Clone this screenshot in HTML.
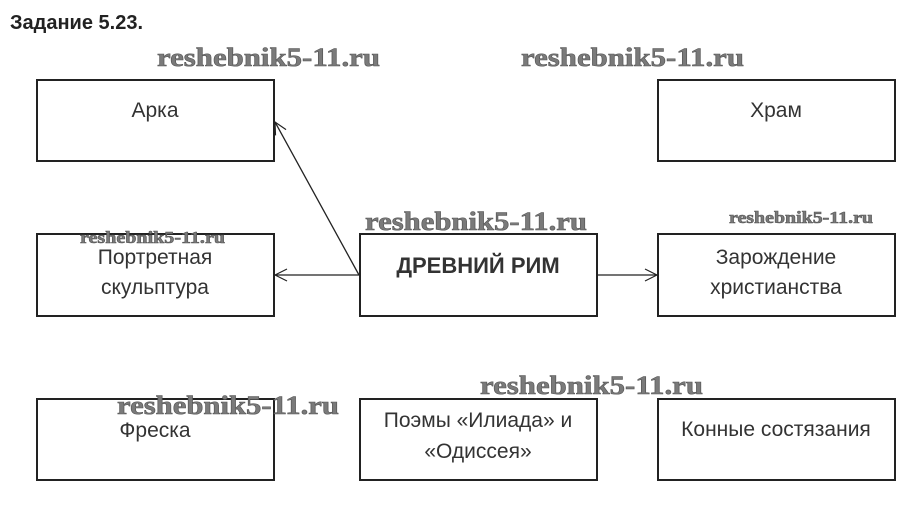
<!DOCTYPE html>
<html><head><meta charset="utf-8"><style>
body{margin:0;background:#fff;width:909px;height:522px;overflow:hidden}
svg{display:block}
.t{font-family:"Liberation Sans",sans-serif;font-size:21px;fill:#333;text-anchor:middle}
.w{font-family:"Liberation Serif",serif;font-weight:bold;fill:#7a7a7a;stroke:#555;stroke-width:0.6}
</style></head><body>
<svg width="909" height="522" viewBox="0 0 909 522">
<defs><marker id="a" markerWidth="14" markerHeight="14" refX="13" refY="7" orient="auto" markerUnits="userSpaceOnUse"><path d="M1,1 L13,7 L1,13" fill="none" stroke="#222" stroke-width="1.2"/></marker></defs>
<text x="10" y="29" font-family="Liberation Sans,sans-serif" font-weight="bold" font-size="20" fill="#222">Задание 5.23.</text>
<g fill="none" stroke="#222" stroke-width="2">
<rect x="37" y="80" width="237" height="81"/>
<rect x="658" y="80" width="237" height="81"/>
<rect x="37" y="234" width="237" height="82"/>
<rect x="360" y="234" width="237" height="82"/>
<rect x="658" y="234" width="237" height="82"/>
<rect x="37" y="399" width="237" height="81"/>
<rect x="360" y="399" width="237" height="81"/>
<rect x="658" y="399" width="237" height="81"/>
</g>
<g stroke="#222" stroke-width="1.3">
<line x1="359" y1="275" x2="275" y2="122" marker-end="url(#a)"/>
<line x1="359" y1="275" x2="275" y2="275" marker-end="url(#a)"/>
<line x1="598" y1="275" x2="657" y2="275" marker-end="url(#a)"/>
</g>
<text class="t" x="155" y="117">Арка</text>
<text class="t" x="776" y="117">Храм</text>
<text class="t" x="155" y="264">Портретная</text>
<text class="t" x="155" y="294">скульптура</text>
<text class="t" x="478" y="273" style="font-weight:bold;font-size:22px">ДРЕВНИЙ РИМ</text>
<text class="t" x="776" y="264">Зарождение</text>
<text class="t" x="776" y="294">христианства</text>
<text class="t" x="155" y="437">Фреска</text>
<text class="t" x="478" y="427">Поэмы «Илиада» и</text>
<text class="t" x="478" y="458">«Одиссея»</text>
<text class="t" x="776" y="436">Конные состязания</text>
<g class="w">
<text x="157" y="66" font-size="26" textLength="223" lengthAdjust="spacingAndGlyphs">reshebnik5-11.ru</text>
<text x="521" y="66" font-size="26" textLength="223" lengthAdjust="spacingAndGlyphs">reshebnik5-11.ru</text>
<text x="365" y="230" font-size="26" textLength="222" lengthAdjust="spacingAndGlyphs">reshebnik5-11.ru</text>
<text x="729" y="223" font-size="17" textLength="144" lengthAdjust="spacingAndGlyphs">reshebnik5-11.ru</text>
<text x="80" y="243" font-size="17" textLength="145" lengthAdjust="spacingAndGlyphs">reshebnik5-11.ru</text>
<text x="480" y="394" font-size="26" textLength="223" lengthAdjust="spacingAndGlyphs">reshebnik5-11.ru</text>
<text x="117" y="414" font-size="26" textLength="222" lengthAdjust="spacingAndGlyphs">reshebnik5-11.ru</text>
</g>
</svg>
</body></html>
